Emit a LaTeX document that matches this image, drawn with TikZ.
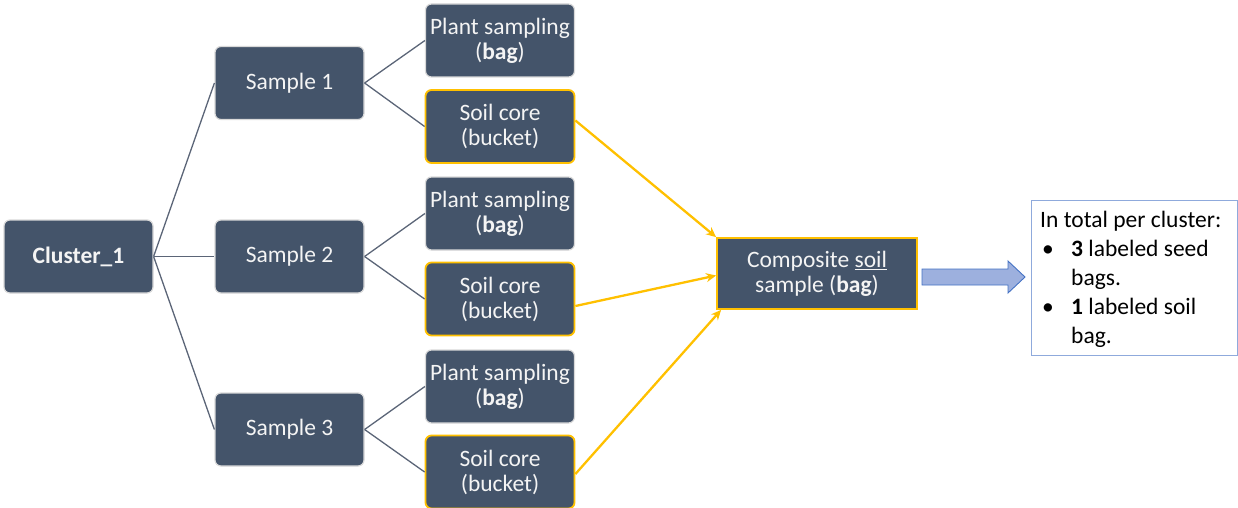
\documentclass[tikz,border=0pt]{standalone}
\usepackage{fontspec}
\setmainfont{Carlito}
\usetikzlibrary{arrows.meta}
\definecolor{boxfill}{HTML}{44546A}
\definecolor{gold}{HTML}{FFC000}
\definecolor{linegray}{HTML}{5B6577}
\definecolor{arrowfill}{HTML}{9DB0DE}
\definecolor{arrowedge}{HTML}{4472C4}
\definecolor{infoedge}{HTML}{8FAADC}
\definecolor{boxtext}{HTML}{F4F4F4}
\begin{document}
\begin{tikzpicture}[x=1pt,y=-1pt,
  box/.style={rectangle, rounded corners=6pt, fill=boxfill, draw=gray!30, line width=1.2pt,
    text=boxtext, align=center, inner sep=0pt, minimum width=149pt, minimum height=73pt,
    font=\fontsize{23.5}{25}\selectfont},
  soilbox/.style={box, draw=gold, line width=1.8pt},
  link/.style={draw=linegray, line width=1.3pt},
  feed/.style={draw=gold, line width=2.3pt, -{Stealth[length=10pt,width=9pt]}},
  infotext/.style={inner sep=0pt, align=left, anchor=base west, font=\fontsize{23.5}{29}\selectfont}]
\useasboundingbox (0,0) rectangle (1238,508);

% nodes
\node[box, font=\fontsize{23.5}{25}\selectfont\bfseries] (cl) at (78.5,256.5) {Cluster\_1};
\node[box] (s1) at (289.5,83) {Sample 1};
\node[box] (s2) at (289.5,256.5) {Sample 2};
\node[box] (s3) at (289.5,429.5) {Sample 3};

\node[box] (p1) at (500,40.5) {Plant sampling\\(\textbf{bag})};
\node[soilbox] (c1) at (500,126.5) {Soil core\\(bucket)};
\node[box] (p2) at (500,213.5) {Plant sampling\\(\textbf{bag})};
\node[soilbox] (c2) at (500,299) {Soil core\\(bucket)};
\node[box] (p3) at (500,386.5) {Plant sampling\\(\textbf{bag})};
\node[soilbox] (c3) at (500,472) {Soil core\\(bucket)};

\node[soilbox, rounded corners=0pt, minimum width=200pt, minimum height=71pt] (comp) at (817,273.5)
  {Composite \underline{soil}\\sample (\textbf{bag})};

% tree links
\draw[link] (cl.east) -- (s1.west);
\draw[link] (cl.east) -- (s2.west);
\draw[link] (cl.east) -- (s3.west);
\draw[link] (s1.east) -- (p1.west);
\draw[link] (s1.east) -- (c1.west);
\draw[link] (s2.east) -- (p2.west);
\draw[link] (s2.east) -- (c2.west);
\draw[link] (s3.east) -- (p3.west);
\draw[link] (s3.east) -- (c3.west);

% soil feeds
\draw[feed] ([yshift=6pt]c1.east) -- (comp.north west);
\draw[feed] ([yshift=-7pt]c2.east) -- ([yshift=-2pt]comp.west);
\draw[feed] ([yshift=-2pt]c3.east) -- ([xshift=5pt]comp.south west);

% block arrow
\draw[draw=arrowedge, fill=arrowfill, line width=0.9pt]
  (922,269) -- (1008,269) -- (1008,261) -- (1025,277) -- (1008,293) -- (1008,285) -- (922,285) -- cycle;

% info box
\node[draw=infoedge, line width=1.2pt, anchor=north west, minimum width=206pt, minimum height=155pt, inner sep=0pt] (info) at (1031,200) {};
\node[infotext] (infotxt) at (1040,343) {In total per cluster:\\
\makebox[31pt][l]{\hspace{2pt}\textbullet}\textbf{3} labeled seed\\
\hspace*{31pt}bags.\\
\makebox[31pt][l]{\hspace{2pt}\textbullet}\textbf{1} labeled soil\\
\hspace*{31pt}bag.};
\end{tikzpicture}
\end{document}
